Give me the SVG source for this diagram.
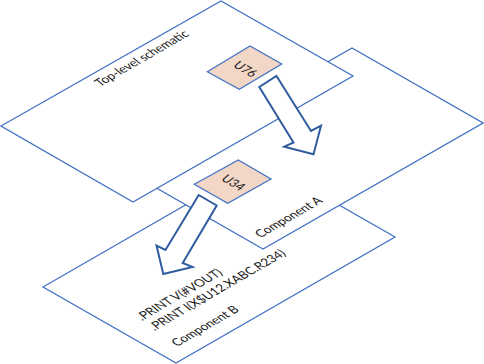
<svg xmlns="http://www.w3.org/2000/svg" width="484" height="364" viewBox="0 0 484 364">
<style>
.plane{fill:#ffffff;stroke:#4472C4;stroke-width:1.3;stroke-linejoin:miter}
.box{fill:#F2D6C6;stroke:#4472C4;stroke-width:1.3}
.arrow{fill:#ffffff;stroke:#2F5C9E;stroke-width:2;stroke-linejoin:miter}
text{font-family:Lato,"Open Sans","Liberation Sans",sans-serif;font-size:12px;fill:#1a1a1a}
</style>
<rect width="484" height="364" fill="#ffffff"/>
<g id="component-b">
<polygon class="plane" points="43,287 262,161 395,237 176,363"/>
<text transform="matrix(0.866,-0.5,0.82,0.69,142,321)">.PRINT V(#VOUT)</text>
<text transform="matrix(0.866,-0.5,0.82,0.69,154.5,331)">.PRINT I(X$U12.XABC.R234)</text>
<text transform="matrix(0.866,-0.5,0.82,0.69,177,347)">Component B</text>
</g>
<g id="component-a">
<polygon class="plane" points="132,174 352,48 483,123 263,249"/>
<text transform="matrix(0.866,-0.5,0.82,0.69,292,220)" text-anchor="middle">Component A</text>
</g>
<g id="top-level">
<polygon class="plane" points="1,126 221,1 353,76 133,202"/>
<text transform="matrix(0.866,-0.5,0.82,0.69,145,61)" text-anchor="middle">Top-level schematic</text>
</g>
<g id="u76">
<polygon class="box" points="207.3,71.7 250,46 281.7,64 239.3,89.3"/>
<text transform="matrix(0.866,0.5,-0.82,0.69,242,72)" text-anchor="middle">U76</text>
</g>
<g id="u34">
<polygon class="box" points="194.3,184.3 238.3,160 271,179 227.7,203.3"/>
<text transform="matrix(0.866,0.5,-0.82,0.69,230,185.5)" text-anchor="middle">U34</text>
</g>
<g id="connectors">
<polygon class="arrow" points="276.5,76 311,131 321,125.7 313.5,154.3 284.3,146.7 293.5,142.5 259.3,87"/>
<polygon class="arrow" points="198.7,195 216.7,205.5 182.7,263 192.5,267 163.3,274 156.5,245.5 165.5,250"/>
</g>
</svg>
